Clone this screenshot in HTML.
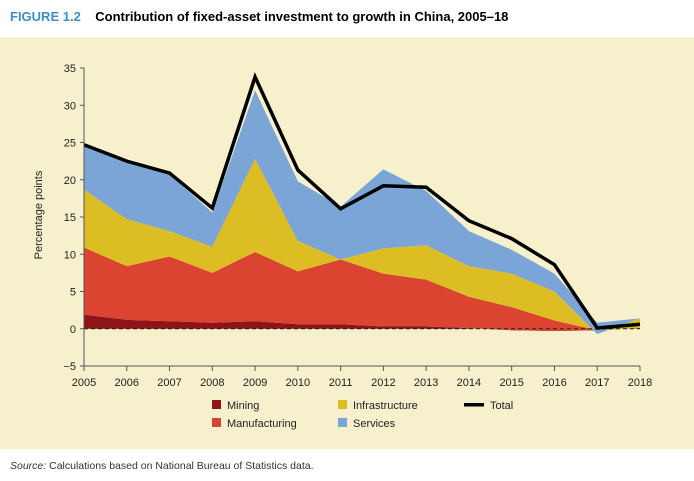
<!DOCTYPE html>
<html><head><meta charset="utf-8"><style>
body{margin:0;width:694px;height:481px;background:#fff;font-family:"Liberation Sans",sans-serif;overflow:hidden;position:relative}
.t{position:absolute;white-space:nowrap}
</style></head><body>
<div class="t" style="left:10px;top:9px;font-size:13px;font-weight:bold"><span style="color:#3d8fc0">FIGURE 1.2</span>&nbsp;&nbsp;&nbsp;&nbsp;Contribution of fixed-asset investment to growth in China, 2005–18</div>
<div style="position:absolute;left:0;top:37px;width:694px;height:412px;background:#f6f0cd"></div>
<svg id="c" width="694" height="481" style="position:absolute;left:0;top:0" font-family="Liberation Sans, sans-serif"></svg>
<div class="t" style="left:10px;top:460px;font-size:10.5px;color:#333"><i>Source:</i> Calculations based on National Bureau of Statistics data.</div>
<script>
const years=[2005,2006,2007,2008,2009,2010,2011,2012,2013,2014,2015,2016,2017,2018];
const mining=[1.9,1.2,1.0,0.8,1.0,0.6,0.6,0.3,0.3,0.1,-0.2,-0.3,-0.2,0.1];
const manufacturing=[9.0,7.2,8.7,6.7,9.3,7.1,8.7,7.1,6.3,4.2,3.1,1.4,0,0];
const infrastructure=[7.8,6.3,3.4,3.5,12.5,4.1,0,3.4,4.6,4.1,4.5,3.9,-0.5,1.3];
const services=[5.8,7.6,7.6,4.6,9.2,8.0,7.1,10.6,7.3,4.7,3.2,2.4,1.5,0];
const total=[24.7,22.5,20.9,16.2,33.8,21.3,16.1,19.2,19.0,14.5,12.1,8.6,0.1,0.6];
const yTicks=[-5,0,5,10,15,20,25,30,35];
const NS="http://www.w3.org/2000/svg",svg=document.getElementById('c');
const x0=84,x1=640,yTop=68,yBot=366;
const X=i=>x0+(x1-x0)*i/(years.length-1);
const Y=v=>yBot-(v+5)/40*(yBot-yTop);
function mk(t,a,p){const e=document.createElementNS(NS,t);for(const k in a)e.setAttribute(k,a[k]);(p||svg).appendChild(e);return e;}
const layers=[[mining,'#8e1418','mining'],[manufacturing,'#da4430','manufacturing'],[infrastructure,'#dcbd24','infrastructure'],[services,'#7ba5d7','services']];
let base=years.map(()=>0);
layers.forEach(([arr,col,nm])=>{
  const top=base.map((b,i)=>b+arr[i]);
  let pts=top.map((v,i)=>X(i)+','+Y(v));
  for(let i=years.length-1;i>=0;i--)pts.push(X(i)+','+Y(base[i]));
  const p=mk('polygon',{points:pts.join(' '),fill:col});
  
  
  base=top;
});
const z=mk('line',{x1:x0,x2:x1,y1:Y(0),y2:Y(0),stroke:'#222','stroke-width':1,'stroke-dasharray':'4,3'});


const tl=mk('polyline',{points:total.map((v,i)=>X(i)+','+Y(v)).join(' '),fill:'none',stroke:'#000','stroke-width':3.5,'stroke-linejoin':'miter'});


mk('line',{x1:x0,x2:x0,y1:yTop,y2:yBot,stroke:'#555','stroke-width':1});
mk('line',{x1:x0,x2:x1,y1:yBot,y2:yBot,stroke:'#555','stroke-width':1});
yTicks.forEach(v=>{
  mk('line',{x1:x0-4,x2:x0,y1:Y(v),y2:Y(v),stroke:'#555'});
  const t=mk('text',{x:x0-8,y:Y(v)+4,'text-anchor':'end','font-size':11,fill:'#222'});
  t.textContent=v===-5?'−5':v;
  
  
});
years.forEach((yr,i)=>{
  mk('line',{x1:X(i),x2:X(i),y1:yBot,y2:yBot+5,stroke:'#555'});
  const t=mk('text',{x:X(i),y:yBot+20,'text-anchor':'middle','font-size':11,fill:'#222'});
  t.textContent=yr;
  
  
});
const yl=mk('text',{x:0,y:0,transform:'translate(42,215) rotate(-90)','text-anchor':'middle','font-size':11,fill:'#222'});
yl.textContent='Percentage points';


const leg=[['Mining','#8e1418',212,409,'sq'],['Manufacturing','#da4430',212,427,'sq'],['Infrastructure','#dcbd24',338,409,'sq'],['Services','#7ba5d7',338,427,'sq'],['Total','#000',464,409,'ln']];
leg.forEach(([n,c,x,y,k])=>{
  const g=mk('g',{});
  
  
  if(k==='sq')mk('rect',{x:x,y:y-9,width:9,height:9,fill:c},g);
  else mk('rect',{x:x,y:y-6,width:20,height:3.5,fill:c},g);
  const t=mk('text',{x:k==='sq'?x+15:x+26,y:y,'font-size':11,fill:'#222'},g);
  t.textContent=n;
});
</script>
</body></html>
